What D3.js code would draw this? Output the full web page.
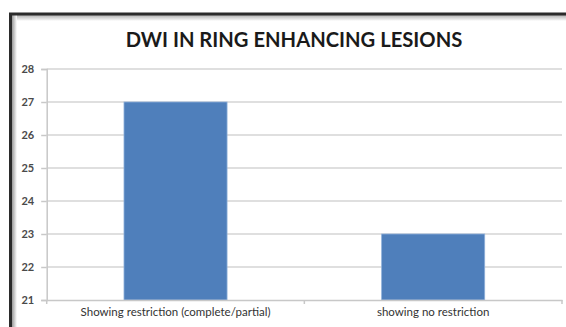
<!DOCTYPE html>
<html><head><meta charset="utf-8">
<script src="https://cdn.jsdelivr.net/npm/d3@7/dist/d3.min.js"></script>
<style>html,body{margin:0;padding:0;background:#fff;}svg{display:block;}</style>
</head><body>
<script>
const categories = ["Showing restriction (complete/partial)", "showing no restriction"];
const values = [27, 23];
const yTicks = [21, 22, 23, 24, 25, 26, 27, 28];
const title = "DWI IN RING ENHANCING LESIONS";

const W = 566, H = 327;
const svg = d3.select("body").append("svg").attr("width", W).attr("height", H);

// frame with shadow
const defs = svg.append("defs");
const gl = defs.append("linearGradient").attr("id","shl").attr("x1","0").attr("x2","1").attr("y1","0").attr("y2","0");
gl.append("stop").attr("offset","0").attr("stop-color","#9a9a9a");
gl.append("stop").attr("offset","1").attr("stop-color","#ffffff");
const gt = defs.append("linearGradient").attr("id","sht").attr("x1","0").attr("x2","0").attr("y1","0").attr("y2","1");
gt.append("stop").attr("offset","0").attr("stop-color","#b0b0b0");
gt.append("stop").attr("offset","1").attr("stop-color","#ffffff");

svg.append("rect").attr("x", 12).attr("y", 15).attr("width", W).attr("height", 6).attr("fill", "url(#sht)");
svg.append("rect").attr("x", 12).attr("y", 15).attr("width", 5).attr("height", H).attr("fill", "url(#shl)");
svg.append("rect").attr("x", 10.5).attr("y", 14).attr("width", W + 10).attr("height", H + 10)
  .attr("fill", "none").attr("stroke", "#2b2b2b").attr("stroke-width", 3);

const m = {left: 46.7, right: 562, top: 69, bottom: 300};

const x = d3.scaleBand().domain(categories).range([m.left, m.right])
  .paddingInner(0.6).paddingOuter(0.3);
const y = d3.scaleLinear().domain([21, 28]).range([m.bottom, m.top]);

// gridlines
svg.append("g").selectAll("line").data(yTicks.filter(t => t !== 21)).join("line")
  .attr("x1", m.left).attr("x2", m.right)
  .attr("y1", d => y(d)).attr("y2", d => y(d))
  .attr("stroke", "#d4d4d4").attr("stroke-width", 1.5);

// y axis
const yAxis = d3.axisLeft(y).tickValues(yTicks).tickSize(5.5).tickPadding(7).tickFormat(d3.format("d"));
const ga = svg.append("g").attr("transform", `translate(${m.left},0)`).call(yAxis);
ga.select(".domain").attr("stroke", "#c8c8c8").attr("stroke-width", 1.5);
ga.selectAll(".tick line").attr("stroke", "#c8c8c8").attr("stroke-width", 1.5);
ga.selectAll("text").attr("font-family", "Lato, 'Open Sans', sans-serif")
  .attr("font-weight", "bold").attr("font-size", 11).attr("fill", "#4a4a4a");

// bars
svg.append("g").selectAll("rect").data(values).join("rect")
  .attr("x", (d, i) => x(categories[i]))
  .attr("width", x.bandwidth())
  .attr("y", d => y(d))
  .attr("height", d => y(21) - y(d))
  .attr("fill", "#4f7fbb")
  .attr("stroke", "#8fb0da").attr("stroke-width", 0.8);

// x axis
const xb = d3.axisBottom(x).tickSize(0).tickPadding(8);
const gx = svg.append("g").attr("transform", `translate(0,${m.bottom})`).call(xb);
gx.select(".domain").attr("stroke", "#c8c8c8").attr("stroke-width", 1.5);
gx.selectAll("text").attr("font-family", "Lato, 'Open Sans', sans-serif")
  .attr("font-size", 11.5).attr("fill", "#333");
// category boundary ticks
const bounds = [m.left, (x(categories[0]) + x.bandwidth() + x(categories[1])) / 2, m.right];
svg.append("g").selectAll("line").data(bounds).join("line")
  .attr("x1", d => d).attr("x2", d => d).attr("y1", m.bottom).attr("y2", m.bottom + 4)
  .attr("stroke", "#c8c8c8").attr("stroke-width", 1.5);

// title
svg.append("text").attr("x", 294).attr("y", 47).attr("text-anchor", "middle")
  .attr("font-family", "Lato, 'Open Sans', sans-serif").attr("font-weight", "bold")
  .attr("font-size", 20.2).attr("fill", "#1a1a1a").text(title);
</script>
</body></html>
